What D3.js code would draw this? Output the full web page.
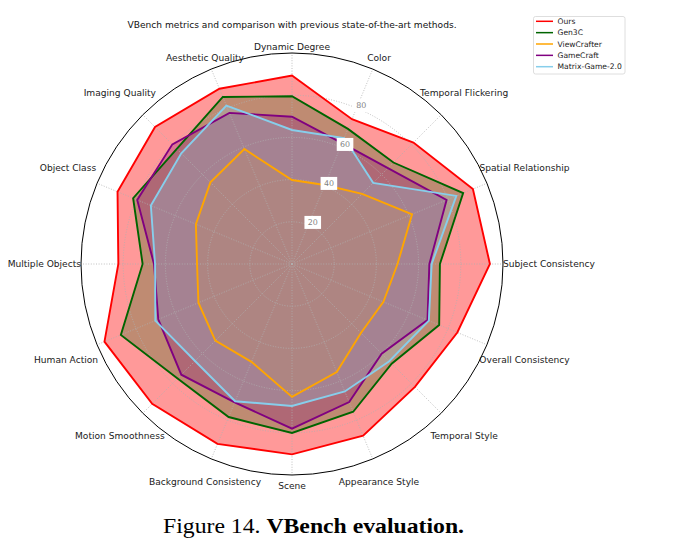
<!DOCTYPE html>
<html><head><meta charset="utf-8">
<script src="https://cdn.jsdelivr.net/npm/d3@7"></script>
<style>body{margin:0;background:#fff} svg{display:block}</style>
</head><body><svg id="c" width="698" height="554"></svg>
<script>
// ---- data ----
const categories = ["Subject Consistency","Spatial Relationship","Temporal Flickering","Color","Dynamic Degree","Aesthetic Quality","Imaging Quality","Object Class","Multiple Objects","Human Action","Motion Smoothness","Background Consistency","Scene","Appearance Style","Temporal Style","Overall Consistency"];
const seriesNames = ["Ours","Gen3C","ViewCrafter","GameCraft","Matrix-Game-2.0"];
const ours        = [93.8, 92.8, 81.4, 74.3, 89.3, 89.9, 91.8, 89.5, 82.3, 96.2, 93.7, 92.3, 90.2, 88.1, 82.4, 84.8];
const gen3c       = [70.1, 87.8, 68.0, 69.3, 79.5, 85.7, 77.2, 81.5, 70.8, 87.8, 76.7, 78.5, 80.1, 75.8, 66.8, 75.5];
const viewCrafter = [50.0, 61.6, 47.0, 40.5, 39.8, 59.0, 54.7, 49.3, 45.0, 48.0, 51.4, 50.2, 63.0, 55.4, 46.2, 46.9];
const gameCraft   = [65.1, 79.3, 64.3, 62.0, 69.8, 77.5, 80.2, 79.4, 65.4, 68.6, 74.2, 71.0, 78.0, 70.8, 60.1, 69.5];
const matrixGame  = [66.2, 84.3, 54.4, 64.6, 63.5, 81.3, 74.2, 72.4, 64.9, 70.1, 65.0, 70.4, 67.3, 65.4, 65.2, 70.2];
const radialTicks = [20, 40, 60, 80];
const titleText = "VBench metrics and comparison with previous state-of-the-art methods.";
const captionPrefix = "Figure 14. ";
const captionBold = "VBench evaluation.";

// ---- styles ----
const colors = ["#ff0000", "#006400", "#ffa500", "#800080", "#87ceeb"];
const fillOpacity = [0.4, 0.25, 0.25, 0.25, 0.25];
const allSeries = [ours, gen3c, viewCrafter, gameCraft, matrixGame];

const svg = d3.select("#c");
svg.append("rect").attr("width", 698).attr("height", 554).attr("fill", "#fff");
const cx = 292, cy = 264, R = 211;
const rScale = d3.scaleLinear().domain([0, 100]).range([0, R]);
const aScale = d3.scaleLinear().domain([0, categories.length]).range([0, 2 * Math.PI]); // math angle, CCW from east
const g = svg.append("g").attr("transform", `translate(${cx},${cy})`);
const pt = (i, v) => [rScale(v) * Math.cos(aScale(i)), -rScale(v) * Math.sin(aScale(i))];
const font = "'DejaVu Sans', sans-serif";

// fills
const radial = d3.lineRadial()
  .angle((d, i) => Math.PI / 2 - aScale(i))
  .radius(d => rScale(d))
  .curve(d3.curveLinearClosed);
allSeries.forEach((s, k) => {
  g.append("path").attr("d", radial(s)).attr("fill", colors[k]).attr("fill-opacity", fillOpacity[k]).attr("stroke", "none");
});

// grid
radialTicks.forEach(t => {
  g.append("circle").attr("r", rScale(t)).attr("fill", "none")
    .attr("stroke", "#b0b0b0").attr("stroke-width", 0.8).attr("stroke-dasharray", "1,1.6");
});
categories.forEach((c, i) => {
  const [x, y] = pt(i, 100);
  g.append("line").attr("x1", 0).attr("y1", 0).attr("x2", x).attr("y2", y)
    .attr("stroke", "#b0b0b0").attr("stroke-width", 0.8).attr("stroke-dasharray", "1,1.6");
});

// lines
allSeries.forEach((s, k) => {
  g.append("path").attr("d", radial(s)).attr("fill", "none").attr("stroke", colors[k])
    .attr("stroke-width", 1.9).attr("stroke-linejoin", "miter");
});

// outer spine
g.append("circle").attr("r", rScale(100)).attr("fill", "none").attr("stroke", "#000").attr("stroke-width", 1);

// radial tick labels along the Color axis
radialTicks.forEach(t => {
  const [x, y] = pt(3, t);
  const lx = x + 4.6, ly = y - 2.6;
  g.append("rect").attr("x", lx - 8.3).attr("y", ly - 6.5).attr("width", 16.6).attr("height", 13)
    .attr("fill", "#fff");
  g.append("text").attr("x", lx).attr("y", ly).attr("dy", "0.35em").attr("text-anchor", "middle")
    .attr("font-family", font).attr("font-size", "7.9px").attr("fill", "#7f7f7f").text(t);
});

// category labels
function interp(arr, phi) {
  const t = phi / 22.5; const i = Math.min(3, Math.floor(t)); const f = t - i;
  return arr[i] * (1 - f) + arr[i + 1] * f;
}
categories.forEach((c, i) => {
  const th = aScale(i);
  const co = Math.cos(th), si = Math.sin(th);
  const phi = Math.acos(Math.min(1, Math.abs(co))) * 180 / Math.PI;
  const txt = g.append("text").attr("text-anchor", "middle").attr("dy", "0.35em")
    .attr("font-family", font).attr("font-size", "9.1px").attr("fill", "#1a1a1a").text(c);
  const w = txt.node().getComputedTextLength();
  const sx = Math.abs(co) < 1e-9 ? 0 : Math.sign(co);
  const sy = Math.abs(si) < 1e-9 ? 0 : Math.sign(si);
  const dxo = interp([0, 15, 23, 6.3, 0], phi);
  const dyo = sy >= 0 ? interp([0, 15, 22, 11, 6], phi) : interp([0, 15, 23, 23, 11], phi);
  const cw = Math.max(0, 1 - phi / 45);
  const x = R * co + sx * (dxo + cw * w / 2);
  const y = -R * si - sy * dyo;
  txt.attr("x", x).attr("y", y);
});

// title
svg.append("text").attr("x", cx).attr("y", 28).attr("text-anchor", "middle")
  .attr("font-family", font).attr("font-size", "9.1px").attr("fill", "#111").text(titleText);

// legend
const lg = svg.append("g");
lg.append("rect").attr("x", 533.5).attr("y", 16.5).attr("width", 91.5).attr("height", 57.5).attr("rx", 2)
  .attr("fill", "#fff").attr("fill-opacity", 0.8).attr("stroke", "#d5d5d5").attr("stroke-width", 0.8);
seriesNames.forEach((n, k) => {
  const y = 21.3 + k * 11.35;
  lg.append("line").attr("x1", 536).attr("x2", 553).attr("y1", y).attr("y2", y)
    .attr("stroke", colors[k]).attr("stroke-width", 1.5);
  lg.append("text").attr("x", 557.5).attr("y", y).attr("dy", "0.35em")
    .attr("font-family", font).attr("font-size", "7.6px").attr("fill", "#1a1a1a").text(n);
});

// caption
const cap = svg.append("text").attr("transform", "translate(163,533) scale(1.13,1)")
  .attr("font-family", "'Liberation Serif', 'Times New Roman', serif").attr("font-size", "21px").attr("fill", "#000");
cap.append("tspan").text(captionPrefix);
cap.append("tspan").attr("font-weight", "bold").text(captionBold);
</script></body></html>
